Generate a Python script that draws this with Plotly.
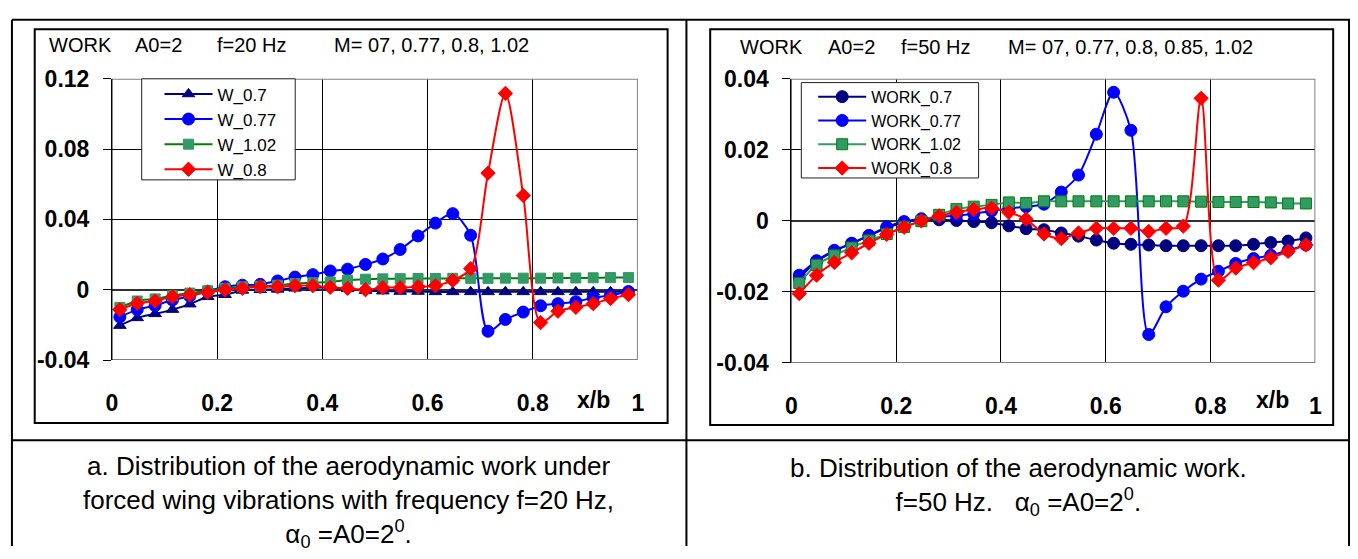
import plotly.graph_objects as go

W, H = 1358, 559


def px(x):
    return x / W


def py(y):
    return 1 - y / H


# ---------------- data ----------------
X = [0.015, 0.048, 0.082, 0.115, 0.148, 0.182, 0.215, 0.248, 0.282, 0.315,
     0.348, 0.382, 0.415, 0.448, 0.482, 0.515, 0.548, 0.582, 0.615, 0.648,
     0.682, 0.715, 0.748, 0.782, 0.815, 0.848, 0.882, 0.915, 0.948, 0.982]

# chart a (f = 20 Hz)
W_07 = [-0.0204, -0.016, -0.0137, -0.0113, -0.0082, -0.004, -0.0028, -0.0004, 0.0, 0.0002,
        0.0008, 0.0012, 0.0012, 0.0005, -0.0005, -0.0008, -0.001, -0.001, -0.0012, -0.0012,
        -0.0012, -0.0012, -0.0012, -0.0012, -0.0012, -0.0012, -0.0012, -0.0012, -0.0012, -0.0012]
W_077 = [-0.0155, -0.0113, -0.009, -0.0058, -0.0037, -0.0008, 0.0017, 0.0026, 0.0031, 0.005,
         0.0072, 0.0086, 0.0107, 0.0117, 0.0144, 0.0175, 0.0229, 0.0306, 0.0379, 0.0433,
         0.031, -0.0236, -0.0169, -0.0127, -0.0091, -0.0079, -0.0068, -0.0046, -0.0032, -0.001]
W_102 = [-0.01, -0.0064, -0.0052, -0.0034, -0.0019, -0.0006, 0.0008, 0.0017, 0.002, 0.0026,
         0.0035, 0.004, 0.0044, 0.0055, 0.006, 0.0062, 0.0063, 0.0064, 0.0064, 0.0065,
         0.0065, 0.0065, 0.0066, 0.0066, 0.0066, 0.0067, 0.0067, 0.0068, 0.0069, 0.007]
W_08 = [-0.0113, -0.0077, -0.0064, -0.004, -0.0028, -0.0015, 0.0, 0.0008, 0.0017, 0.0017,
        0.0023, 0.0023, 0.0014, 0.0008, 0.0, 0.0012, 0.0012, 0.0017, 0.0023, 0.0053,
        0.012, 0.0663, 0.1117, 0.0536, -0.0187, -0.0122, -0.01, -0.0079, -0.005, -0.0028]

# chart b (f = 50 Hz)
WORK_07 = [-0.016, -0.0115, -0.0085, -0.0064, -0.0042, -0.002, -0.0005, 0.0003, 0.0003, 0.0001,
           -0.0002, -0.0005, -0.0014, -0.0022, -0.0025, -0.0034, -0.0043, -0.0054, -0.0063, -0.0066,
           -0.0068, -0.007, -0.007, -0.007, -0.007, -0.007, -0.0066, -0.0061, -0.0057, -0.0048]
WORK_077 = [-0.0153, -0.0112, -0.0083, -0.0063, -0.0041, -0.0017, -0.0002, 0.0006, 0.0011, 0.0015,
            0.002, 0.0028, 0.0035, 0.004, 0.0047, 0.0081, 0.0129, 0.0244, 0.0362, 0.0255,
            -0.032, -0.0242, -0.0198, -0.0164, -0.0142, -0.012, -0.0106, -0.0097, -0.0083, -0.0068]
WORK_102 = [-0.0175, -0.0124, -0.0097, -0.0075, -0.0055, -0.0037, -0.0017, -0.0001, 0.0017, 0.0033,
            0.004, 0.0045, 0.0052, 0.005, 0.0055, 0.0055, 0.0055, 0.0055, 0.0055, 0.0055,
            0.0055, 0.0055, 0.0055, 0.0054, 0.0053, 0.0053, 0.0053, 0.0052, 0.0049, 0.0049]
WORK_08 = [-0.0205, -0.0153, -0.0117, -0.009, -0.0063, -0.0038, -0.0018, 0.0, 0.0014, 0.0024,
           0.0032, 0.0036, 0.0024, 0.0005, -0.0037, -0.005, -0.0034, -0.0021, -0.0021, -0.0021,
           -0.003, -0.0021, -0.0015, 0.0345, -0.0167, -0.0133, -0.0118, -0.0104, -0.0086, -0.0068]

X_TICKS = [0, 0.2, 0.4, 0.6, 0.8, 1]
X_TICKTEXT = ["0", "0.2", "0.4", "0.6", "0.8", "1"]
YA_TICKS = [-0.04, 0, 0.04, 0.08, 0.12]
YA_TICKTEXT = ["-0.04", "0", "0.04", "0.08", "0.12"]
YB_TICKS = [-0.04, -0.02, 0, 0.02, 0.04]
YB_TICKTEXT = ["-0.04", "-0.02", "0", "0.02", "0.04"]

FONT = "Liberation Sans, Arial, sans-serif"
NAVY, BLUE, RED = "#000080", "#0000FF", "#FF0000"
SEA, GREEN = "#339966", "#008000"

fig = go.Figure()


def add(y, name, xa, ya, leg, color, symbol, size, lcolor=None, mline=None):
    fig.add_trace(go.Scatter(
        x=X, y=y, name=name, mode="lines+markers",
        xaxis=xa, yaxis=ya, legend=leg,
        line=dict(color=lcolor or color, width=2, shape="spline", smoothing=0.8),
        marker=dict(symbol=symbol, size=size, color=color,
                    line=dict(color=mline or color, width=1)),
    ))


add(W_07, "W_0.7", "x", "y", "legend", NAVY, "triangle-up", 11)
add(W_077, "W_0.77", "x", "y", "legend", BLUE, "circle", 12)
add(W_102, "W_1.02", "x", "y", "legend", SEA, "square", 10, lcolor=GREEN)
add(W_08, "W_0.8", "x", "y", "legend", RED, "diamond", 11)

add(WORK_07, "WORK_0.7", "x2", "y2", "legend2", NAVY, "circle", 12)
add(WORK_077, "WORK_0.77", "x2", "y2", "legend2", BLUE, "circle", 12)
add(WORK_102, "WORK_1.02", "x2", "y2", "legend2", SEA, "square", 11, mline=GREEN)
add(WORK_08, "WORK_0.8", "x2", "y2", "legend2", RED, "diamond", 11)

tickfont = dict(family=FONT, size=23, color="black", weight="bold")

xcommon = dict(range=[0, 1], tickvals=X_TICKS, ticktext=X_TICKTEXT, showgrid=True,
               gridcolor="black", gridwidth=1, zeroline=False, showline=False, ticks="",
               tickfont=tickfont, ticklabelstandoff=27, fixedrange=True)
ycommon = dict(showgrid=True, gridcolor="black", gridwidth=1, zeroline=True,
               zerolinecolor="#303030", zerolinewidth=2, showline=True, linecolor="black",
               linewidth=1, ticks="outside", ticklen=8, tickcolor="black", tickwidth=1,
               tickfont=tickfont, ticklabelstandoff=9, fixedrange=True)

fig.update_layout(
    width=W, height=H, margin=dict(l=0, r=0, t=0, b=0),
    paper_bgcolor="white", plot_bgcolor="white",
    font=dict(family=FONT, color="black"),
    xaxis=dict(domain=[px(107), px(638)], anchor="y", **xcommon),
    yaxis=dict(domain=[py(364), py(69)], anchor="x", range=[-0.04, 0.12],
               tickvals=YA_TICKS, ticktext=YA_TICKTEXT, **ycommon),
    xaxis2=dict(domain=[px(793), px(1322)], anchor="y2", **xcommon),
    yaxis2=dict(domain=[py(367), py(69)], anchor="x2", range=[-0.04, 0.04],
                tickvals=YB_TICKS, ticktext=YB_TICKTEXT, **ycommon),
    legend=dict(x=px(155), y=py(66.5), xanchor="left", yanchor="top",
                bgcolor="rgba(0,0,0,0)", borderwidth=0, tracegroupgap=0, itemwidth=48,
                font=dict(family=FONT, size=17, color="black")),
    legend2=dict(x=px(815), y=py(70), xanchor="left", yanchor="top",
                 bgcolor="rgba(0,0,0,0)", borderwidth=0, tracegroupgap=0, itemwidth=48,
                 font=dict(family=FONT, size=16, color="black")),
)

shapes = []


def line(x0, y0, x1, y1, color="black", width=2):
    shapes.append(dict(type="line", xref="paper", yref="paper",
                       x0=px(x0), y0=py(y0), x1=px(x1), y1=py(y1),
                       line=dict(color=color, width=width), layer="above"))


def rect(x0, y0, x1, y1, color="black", width=2, fill="rgba(0,0,0,0)"):
    shapes.append(dict(type="rect", xref="paper", yref="paper",
                       x0=px(x0), y0=py(y0), x1=px(x1), y1=py(y1),
                       line=dict(color=color, width=width), fillcolor=fill, layer="above"))


# table frame
line(6, 7, 1357, 7)
line(6, 7, 6, 559)
line(687, 7, 687, 559)
line(1356, 7, 1356, 559)
line(6, 448, 1357, 448)
# chart boxes
rect(29, 17, 668, 430)
rect(711, 17, 1340, 432)

# plot borders (gray, top/right/bottom) via axis references
for xa, ya, top, bot in (("x", "y", 0.12, -0.04), ("x2", "y2", 0.04, -0.04)):
    for (x0, y0, x1, y1) in ((0, top, 1, top), (1, top, 1, bot), (0, bot, 1, bot)):
        shapes.append(dict(type="line", xref=xa, yref=ya, x0=x0, y0=y0, x1=x1, y1=y1,
                           line=dict(color="#808080", width=2), layer="above"))
    shapes.append(dict(type="line", xref=xa, yref=ya, x0=0, y0=top, x1=0, y1=bot,
                       line=dict(color="black", width=1), layer="above"))

# legend boxes
rect(137, 69, 292, 175, color="#202020", width=1, fill="white")
rect(803, 73, 982, 173, color="#202020", width=1, fill="white")

fig.update_layout(shapes=shapes)

ann = []


def text(x, y, s, size=20, xanchor="left", bold=False):
    ann.append(dict(x=x, y=py(y), xref="paper", yref="paper", text=s, showarrow=False,
                    xanchor=xanchor, yanchor="middle", align="center",
                    font=dict(family=FONT, size=size, color="black",
                              weight="bold" if bold else "normal")))


# headers
text(px(41), 34, "WORK")
text(px(128), 34, "A0=2")
text(px(211), 34, "f=20 Hz")
text(px(329), 34, "M= 07, 0.77, 0.8, 1.02")
text(px(739), 36, "WORK")
text(px(828), 36, "A0=2")
text(px(902), 36, "f=50 Hz")
text(px(1010), 36, "M= 07, 0.77, 0.8, 0.85, 1.02")

# x/b labels
ann.append(dict(x=0.915, y=py(406), xref="x", yref="paper", text="x/b", showarrow=False,
                xanchor="center", yanchor="middle", font=tickfont))
ann.append(dict(x=0.919, y=py(406), xref="x2", yref="paper", text="x/b", showarrow=False,
                xanchor="center", yanchor="middle", font=tickfont))

# captions
CAP = 26
text(px(346), 512,
     "a. Distribution of the aerodynamic work under<br>"
     "forced wing vibrations with frequency f=20 Hz,<br>"
     "α<sub>0</sub> =A0=2<sup>0</sup>.", CAP, "center")
text(px(1022), 497,
     "b. Distribution of the aerodynamic work.<br>"
     "f=50 Hz.&nbsp;&nbsp; α<sub>0</sub> =A0=2<sup>0</sup>.", CAP, "center")

fig.update_layout(annotations=ann)

fig.write_html("out.html", config={"displayModeBar": False})
